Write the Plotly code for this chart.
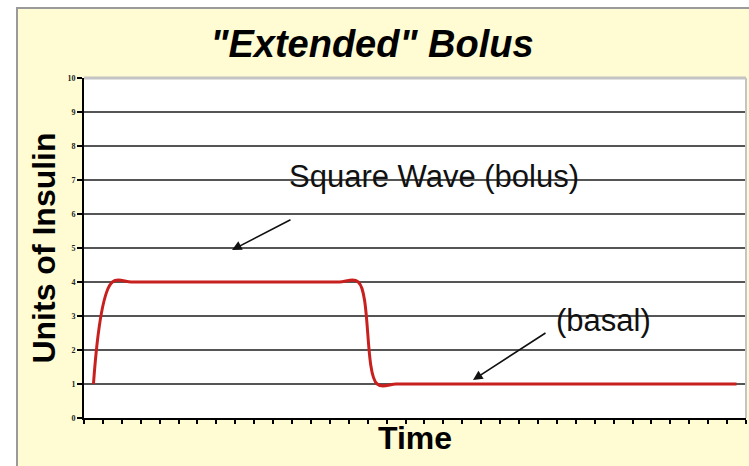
import plotly.graph_objects as go

# ---- data ----
time_idx = list(range(35))
insulin = [1] + [4] * 14 + [1] * 20
y_ticks = list(range(0, 11))
y_tick_labels = [str(v) for v in y_ticks]

title_text = '"Extended" Bolus'
x_title = "Time"
y_title = "Units of Insulin"
label_bolus = "Square Wave (bolus)"
label_basal = "(basal)"

W, H = 749, 466
L, R, T, B = 84, 3, 78, 48
pw, ph = W - L - R, H - T - B

def px_x(p):
    return (p - L) / pw

def px_y(p):
    return (H - B - p) / ph

fig = go.Figure()
fig.add_trace(go.Scatter(
    x=time_idx, y=insulin, mode="lines",
    line=dict(color="#c8201e", width=3, shape="spline", smoothing=1),
    hoverinfo="skip", showlegend=False,
))

SANS = "Liberation Sans, Arial, sans-serif"

fig.update_layout(
    width=W, height=H,
    margin=dict(l=L, r=R, t=T, b=B),
    paper_bgcolor="#fffbd2",
    plot_bgcolor="white",
    showlegend=False,
    title=dict(
        text="<b><i>" + title_text + "</i></b>",
        x=372 / W, xanchor="center",
        y=1 - 44 / H, yanchor="middle",
        font=dict(family=SANS, size=38, color="black"),
    ),
    xaxis=dict(
        range=[-0.5, 34.5],
        tick0=-0.5, dtick=1,
        showticklabels=False,
        ticks="outside", ticklen=4, tickwidth=1.5, tickcolor="black",
        showline=True, linecolor="black", linewidth=2,
        showgrid=False, zeroline=False, automargin=False,
        title=dict(text="<b>" + x_title + "</b>",
                   font=dict(family=SANS, size=32, color="black"),
                   standoff=4),
    ),
    yaxis=dict(
        range=[0, 10],
        tickvals=y_ticks, ticktext=y_tick_labels,
        tickfont=dict(family="Liberation Serif, serif", size=8, color="#222",
                      weight="bold"),
        ticks="outside", ticklen=5, tickwidth=1.5, tickcolor="black",
        showline=True, linecolor="black", linewidth=2,
        showgrid=True, gridcolor="#555555", gridwidth=2,
        zeroline=False, automargin=False,
        title=dict(text="<b>" + y_title + "</b>",
                   font=dict(family=SANS, size=32, color="black"),
                   standoff=2),
    ),
    shapes=[
        # white outside of the chart frame
        dict(type="rect", xref="paper", yref="paper",
             x0=px_x(-5), x1=px_x(16), y0=px_y(480), y1=px_y(-5),
             fillcolor="white", line=dict(width=0), layer="below"),
        dict(type="rect", xref="paper", yref="paper",
             x0=px_x(-5), x1=px_x(760), y0=px_y(7), y1=px_y(-5),
             fillcolor="white", line=dict(width=0), layer="below"),
        # chart frame border
        dict(type="rect", xref="paper", yref="paper",
             x0=px_x(17), x1=px_x(800), y0=px_y(520), y1=px_y(8),
             fillcolor="rgba(0,0,0,0)", line=dict(color="#9a9a9a", width=2),
             layer="below"),
        # light plot-area border on top and right
        dict(type="line", xref="paper", yref="paper",
             x0=0, x1=1, y0=1, y1=1,
             line=dict(color="#c4c4c4", width=3), layer="above"),
        dict(type="line", xref="paper", yref="paper",
             x0=1, x1=1, y0=0, y1=1,
             line=dict(color="#c4c4c4", width=2), layer="above"),
    ],
)

# text labels
fig.add_annotation(x=px_x(434), y=px_y(176), xref="paper", yref="paper",
                   text=label_bolus, showarrow=False,
                   font=dict(family=SANS, size=31, color="#111"),
                   xanchor="center", yanchor="middle")
fig.add_annotation(x=px_x(603), y=px_y(320), xref="paper", yref="paper",
                   text=label_basal, showarrow=False,
                   font=dict(family=SANS, size=31, color="#111"),
                   xanchor="center", yanchor="middle")

# arrows
fig.add_annotation(x=px_x(232), y=px_y(250), xref="paper", yref="paper",
                   ax=292 - 232, ay=219 - 250, axref="pixel", ayref="pixel",
                   text="", showarrow=True, arrowhead=2, arrowsize=1.2,
                   arrowwidth=1.6, arrowcolor="#111")
fig.add_annotation(x=px_x(473), y=px_y(380), xref="paper", yref="paper",
                   ax=547 - 473, ay=332 - 380, axref="pixel", ayref="pixel",
                   text="", showarrow=True, arrowhead=2, arrowsize=1.2,
                   arrowwidth=1.6, arrowcolor="#111")

fig.write_html("out.html",
               config={"displayModeBar": False},
               post_script="document.body.style.margin='0px';"
                           "document.body.style.overflow='hidden';")
